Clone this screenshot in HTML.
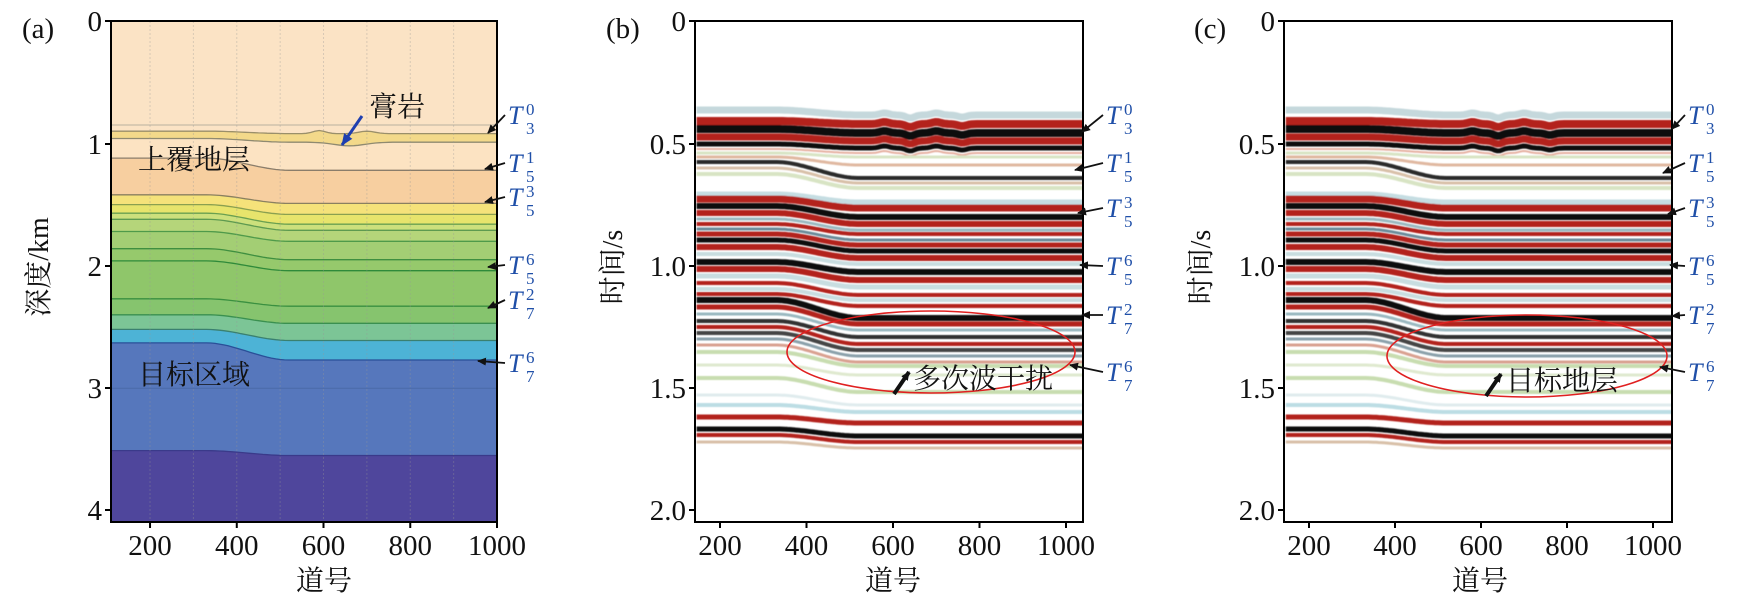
<!DOCTYPE html>
<html><head><meta charset="utf-8">
<style>
html,body{margin:0;padding:0;background:#fff;}
svg{display:block;}
text{font-family:"Liberation Serif","Noto Serif CJK SC",serif;}
.tk{font-size:29px;fill:#111;}
.cj{font-size:28px;fill:#111;font-family:"Liberation Serif","Noto Serif CJK SC",serif;}
.T{font-size:26px;fill:#1f4fa8;font-style:italic;}
.s{font-size:17px;fill:#1f4fa8;font-style:normal;}
</style></head>
<body>
<svg id="svg" width="1759" height="614" viewBox="0 0 1759 614" xmlns="http://www.w3.org/2000/svg">
<defs>
<marker id="ah" markerWidth="9" markerHeight="8" refX="8" refY="4" orient="auto" markerUnits="userSpaceOnUse" viewBox="0 0 9 8"><path d="M0,0 L9,4 L0,8 z" fill="#111"/></marker>
<marker id="ahb" markerWidth="12" markerHeight="10" refX="11" refY="5" orient="auto" markerUnits="userSpaceOnUse" viewBox="0 0 12 10"><path d="M0,0 L12,5 L0,10 z" fill="#1f3fb0"/></marker>
<clipPath id="ca"><rect x="111" y="21" width="386" height="501"/></clipPath>
<clipPath id="cb"><rect x="695" y="21" width="388" height="501"/></clipPath>
<clipPath id="cc"><rect x="1284" y="21" width="388" height="501"/></clipPath>
<filter id="bl" x="-5%" y="-5%" width="110%" height="110%"><feGaussianBlur stdDeviation="0.6"/></filter>
</defs>
<g id="pa" clip-path="url(#ca)"></g>
<g clip-path="url(#cb)"><g id="pb" filter="url(#bl)"></g></g>
<g clip-path="url(#cc)"><g id="pc" filter="url(#bl)"></g></g>
<g id="ov"></g>
</svg>
<script>
var NS="http://www.w3.org/2000/svg";
function el(p,tag,at,txt){var e=document.createElementNS(NS,tag);for(var k in at)e.setAttribute(k,at[k]);if(txt!==undefined)e.textContent=txt;p.appendChild(e);return e;}
function sm(tr,a,b){var s=(tr-a)/(b-a);s=Math.max(0,Math.min(1,s));return s*s*(3-2*s);}
var pa=document.getElementById('pa');
function ax(tr){return 111+(tr-110)*0.4337;}
function ay(d){return 21+d*122.4;}
var L=[[0,0,'#fbe3c5'],[0.9,0.92,'#f3d98a','#9a8f6a'],[0.96,0.99,'#fce3c2','#8f8a70'],[1.12,1.22,'#f7cfa0','#8a7d6a'],[1.42,1.49,'#f5e27a','#8a8060'],[1.5,1.58,'#e7e46c','#8aa050'],[1.57,1.66,'#cce07c','#6aa050'],[1.62,1.71,'#b5d57a','#5e9a50'],[1.72,1.8,'#a3ce74','#4f9a4a'],[1.86,1.95,'#96c96c','#3f8f40'],[1.96,2.04,'#8fc66a','#2f8a3a'],[2.27,2.33,'#86c46e','#3a9040'],[2.4,2.47,'#7cc596','#3a9050'],[2.52,2.61,'#4db3d6','#3a8070'],[2.63,2.77,'#5677bc','#2a4f98'],[3.51,3.55,'#4f469c','#3a3a8a']];
L.forEach(function(l,i){
  var pts=[];
  for(var tr=100;tr<=1010;tr+=10){
    var d=l[0]+(l[1]-l[0])*sm(tr,330,520);
    if(i==1){d-=0.025*Math.exp(-Math.pow((tr-590)/20,2))+0.02*Math.exp(-Math.pow((tr-700)/25,2));}
    if(i==2){d+=0.03*Math.exp(-Math.pow((tr-660)/50,2));}
    pts.push(ax(tr).toFixed(1)+','+ay(d).toFixed(1));
  }
  el(pa,'polygon',{points:pts.join(' ')+' '+ax(1010)+',530 '+ax(100)+',530',fill:l[2]});
  if(l[3]) el(pa,'polyline',{points:pts.join(' '),fill:'none',stroke:l[3],'stroke-width':1.3});
});
el(pa,'line',{x1:100,x2:500,y1:ay(0.85),y2:ay(0.85),stroke:'#b8b0a0','stroke-width':1});
el(pa,'line',{x1:100,x2:500,y1:ay(3.0),y2:ay(3.0),stroke:'#4a6aa8','stroke-width':1});
for(var t=200;t<=900;t+=100){el(pa,'line',{x1:ax(t),x2:ax(t),y1:21,y2:522,stroke:'#999','stroke-opacity':0.35,'stroke-width':1,'stroke-dasharray':'2,2'});}
var EV=[[110,115,'#c5d8dc',7],[121,124,'#b3201e',8],[129,133,'#111',8],[137,141,'#b3201e',7],[144,148,'#111',5],[149,153,'#e6b0a0',2],[153,157,'#d8e4c4',3],[157,165,'#e0b8a0',3],[162,178,'#2a2a2a',4],[168,183,'#d8c0a8',3],[174,188,'#d8e4c4',4],[194,202,'#c5dde2',5],[199,208,'#b3201e',7],[206,217,'#111',6],[213,224,'#b3201e',6],[219,230,'#9ab8c0',3],[224,234,'#b3201e',4],[229,240,'#6a8a99',3],[234,245,'#b3201e',5],[240,251,'#111',5],[247,258,'#b3201e',6],[254,264,'#c8dde0',4],[262,272,'#111',6],[269,280,'#b3201e',6],[276,287,'#c8dde0',5],[283,295,'#b3201e',4],[289,300,'#c8dde0',4],[294,306,'#b3201e',4],[300,318,'#111',6],[307,324,'#b3201e',5],[314,330,'#9ab8c0',3],[321,337,'#333',4],[327,344,'#b3201e',4],[333,350,'#444',4],[339,356,'#8aa0aa',3],[345,362,'#d9a090',3],[352,366,'#c8ddb0',4],[365,375,'#dfe9cf',3],[378,392,'#c8ddb0',4],[395,405,'#e0ecee',3],[405,412,'#bcdde4',4],[417,423,'#b3201e',5],[429,436,'#111',5],[435,442,'#b3201e',4],[442,448,'#d8c0a8',3]];
function seis(g,x0,mult){
  function sx(tr){return x0+(tr-142)*mult;}
  EV.forEach(function(e,k){
    var pts=[];
    for(var tr=146;tr<=1046;tr+=6){
      var y=e[0]+(e[1]-e[0])*sm(tr,330,520);
      if(e[0]<150){y+=3*Math.exp(-Math.pow((tr-640)/14,2))-2*Math.exp(-Math.pow((tr-580)/15,2))-2*Math.exp(-Math.pow((tr-700)/15,2))+2*Math.exp(-Math.pow((tr-760)/15,2));}
      pts.push(sx(tr).toFixed(1)+','+y.toFixed(1));
    }
    el(g,'polyline',{points:pts.join(' '),fill:'none',stroke:e[2],'stroke-width':e[3]});
  });
}
seis(document.getElementById('pb'),695+25-58*0.4325,0.4325);
seis(document.getElementById('pc'),1284+25-58*0.43,0.43);
var ov=document.getElementById('ov');
function frame(x,w){el(ov,'rect',{x:x,y:21,width:w,height:501,fill:'none',stroke:'#000','stroke-width':2});}
frame(111,386);frame(695,388);frame(1284,388);
var yt=[21,144,266,388,510];
function yticks(x,labs){labs.forEach(function(l,i){el(ov,'line',{x1:x-6,x2:x,y1:yt[i],y2:yt[i],stroke:'#000','stroke-width':2});el(ov,'text',{x:x-9,y:yt[i]+10,'text-anchor':'end','class':'tk'},l);});}
yticks(111,['0','1','2','3','4']);
yticks(695,['0','0.5','1.0','1.5','2.0']);
yticks(1284,['0','0.5','1.0','1.5','2.0']);
function xticks(f){[200,400,600,800,1000].forEach(function(v){var x=f(v);el(ov,'line',{x1:x,x2:x,y1:522,y2:528,stroke:'#000','stroke-width':2});el(ov,'text',{x:x,y:555,'text-anchor':'middle','class':'tk'},String(v));});}
xticks(ax);
xticks(function(v){return 720+(v-200)*0.4325;});
xticks(function(v){return 1309+(v-200)*0.43;});
el(ov,'text',{x:324,y:590,'text-anchor':'middle','class':'cj'},'道号');
el(ov,'text',{x:893,y:590,'text-anchor':'middle','class':'cj'},'道号');
el(ov,'text',{x:1480,y:590,'text-anchor':'middle','class':'cj'},'道号');
el(ov,'text',{x:22,y:38,'class':'tk','font-size':'26'},'(a)');
el(ov,'text',{x:606,y:38,'class':'tk','font-size':'26'},'(b)');
el(ov,'text',{x:1194,y:38,'class':'tk','font-size':'26'},'(c)');
el(ov,'text',{x:48,y:267,'text-anchor':'middle','class':'cj',transform:'rotate(-90 48 267)'},'深度/km');
el(ov,'text',{x:622,y:267,'text-anchor':'middle','class':'cj',transform:'rotate(-90 622 267)'},'时间/s');
el(ov,'text',{x:1210,y:267,'text-anchor':'middle','class':'cj',transform:'rotate(-90 1210 267)'},'时间/s');
el(ov,'text',{x:369,y:116,'class':'cj'},'膏岩');
el(ov,'line',{x1:362,y1:116,x2:342,y2:145,stroke:'#1f3fb0','stroke-width':3,'marker-end':'url(#ahb)'});
el(ov,'text',{x:138,y:169,'class':'cj','font-size':'29'},'上覆地层');
el(ov,'text',{x:138,y:384,'class':'cj','font-size':'29'},'目标区域');
el(ov,'ellipse',{cx:931,cy:352,rx:144,ry:41,fill:'none',stroke:'#e02020','stroke-width':1.6});
el(ov,'ellipse',{cx:1527,cy:356,rx:140,ry:41,fill:'none',stroke:'#e02020','stroke-width':1.6});
el(ov,'text',{x:913,y:388,'class':'cj'},'多次波干扰');
el(ov,'line',{x1:894,y1:394,x2:909,y2:372,stroke:'#111','stroke-width':4,'marker-end':'url(#ah)'});
el(ov,'text',{x:1506,y:390,'class':'cj'},'目标地层');
el(ov,'line',{x1:1486,y1:396,x2:1501,y2:374,stroke:'#111','stroke-width':4,'marker-end':'url(#ah)'});
function Tlab(x,y,sup,sub,tx,ty){
  el(ov,'text',{x:x,y:y,'class':'T'},'T');
  el(ov,'text',{x:x+18,y:y-9,'class':'s'},sup);
  el(ov,'text',{x:x+18,y:y+10,'class':'s'},sub);
  el(ov,'line',{x1:x-3,y1:y-9,x2:tx,y2:ty,stroke:'#111','stroke-width':1.8,'marker-end':'url(#ah)'});
}
var TL=[['0','3'],['1','5'],['3','5'],['6','5'],['2','7'],['6','7']];
var ya=[124,172,206,274,309,372],txa=[488,485,485,488,488,478],tya=[133,169,202,267,308,361];
TL.forEach(function(l,i){Tlab(508,ya[i],l[0],l[1],txa[i],tya[i]);});
var yb=[124,172,217,275,324,381],txb=[1082,1075,1078,1080,1082,1070],tyb=[132,170,213,265,315,365];
TL.forEach(function(l,i){Tlab(1106,yb[i],l[0],l[1],txb[i],tyb[i]);});
var txc=[1672,1663,1668,1670,1672,1660],tyc=[129,173,214,265,316,367];
TL.forEach(function(l,i){Tlab(1688,yb[i],l[0],l[1],txc[i],tyc[i]);});
</script>
</body></html>
